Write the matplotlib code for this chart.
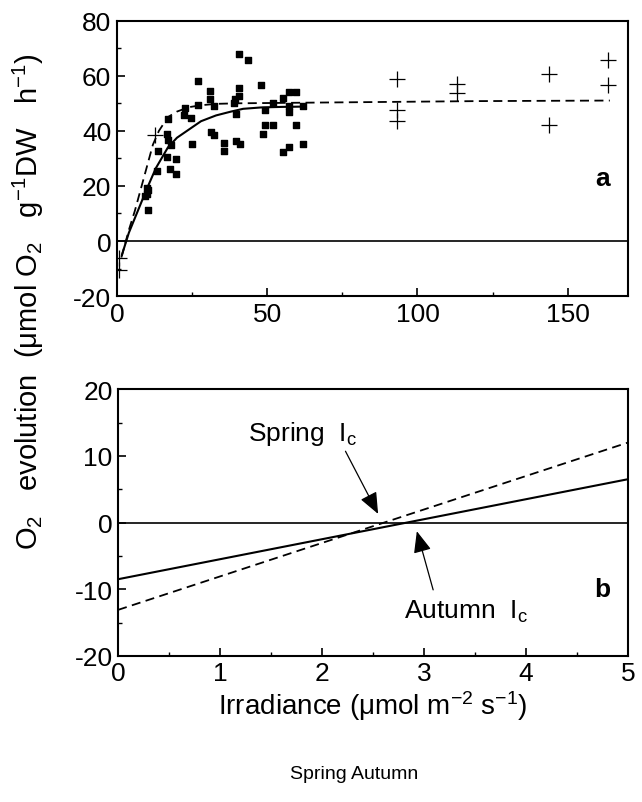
import matplotlib.pyplot as plt
from matplotlib.ticker import MultipleLocator
import numpy as np

plt.rcParams['font.family'] = ['Liberation Sans', 'DejaVu Sans']
plt.rcParams['mathtext.fontset'] = 'custom'
plt.rcParams['mathtext.rm'] = 'Liberation Sans'
plt.rcParams['mathtext.it'] = 'Liberation Sans'
plt.rcParams['axes.unicode_minus'] = False

# panel a: autumn (squares) and spring (crosses) P-I data
autumn_x = [10, 10, 10.5, 9.5, 10.5, 13.6, 13.3, 16.9, 16.7, 16.9, 16.7, 18.1, 17.8, 19.7, 19.8,
            22.6, 22.2, 24.8, 25, 26.9, 26.9, 31.1, 31.1, 32.2, 31.3, 32.4, 35.6, 35.6, 40.8, 43.7,
            40.8, 40.6, 39.4, 39.1, 39.8, 39.7, 40.9, 48.1, 48.6, 49.4, 51.9, 49.4, 51.9, 55.3,
            57.4, 59.7, 57.4, 57.4, 55.3, 57.4, 59.7, 62, 62]
autumn_y = [19.4, 17, 18.5, 16.5, 11.4, 32.8, 25.6, 44.4, 39, 36.6, 30.4, 34.9, 26.2, 24.5, 29.8,
            48.3, 45.8, 44.8, 35.2, 58.2, 49.4, 54.3, 51.5, 49.1, 39.6, 38.4, 35.7, 32.8, 68, 65.8,
            55.7, 52.7, 51.5, 50.1, 46.2, 36.3, 35.2, 56.5, 39, 42, 42, 47.4, 50.1, 51.8,
            54.1, 54.1, 49.1, 47, 32.5, 34.3, 42, 35.2, 49.1]
spring_x = [0.8, 0.8, 12.6, 93.3, 93.3, 93.3, 113.3, 113.3, 143.6, 143.6, 163.3, 163.3]
spring_y = [-6.2, -10.4, 38.4, 59, 47.4, 43.4, 56.9, 53.9, 60.5, 42.3, 65.8, 56.6]

# fitted curves
autumn_fit_x = [1.7, 4, 7, 10, 13, 17, 20, 24, 28, 33, 38, 42, 48, 55, 62]
autumn_fit_y = [-5, 3, 11, 19, 26.5, 34, 37.5, 40.5, 43.5, 45.6, 47, 48, 48.5, 48.7, 48.8]
spring_fit_x = [1.5, 4, 6, 8, 10, 12, 14, 17, 20, 24, 28, 33, 40, 60, 90, 120, 164]
spring_fit_y = [-6, 4, 11, 19, 27, 35, 40, 45, 47, 48.6, 49.3, 49.8, 50, 50.2, 50.5, 50.8, 51]

# panel b: low-light linear fits
low_x = [0, 5]
autumn_low = [-8.5, 6.5]
spring_low = [-13.1, 12.0]

fig = plt.figure(figsize=(6.42, 8.03), dpi=100)
ax1 = fig.add_axes([0.182, 0.630, 0.796, 0.343])
ax2 = fig.add_axes([0.184, 0.182, 0.794, 0.332])

dash = (0, (5, 3))
ax1.axhline(0, color='k', lw=1.2)
ax1.plot(autumn_fit_x, autumn_fit_y, color='k', lw=1.5)
ax1.plot(spring_fit_x, spring_fit_y, color='k', lw=1.3, linestyle=dash)
ax1.scatter(autumn_x, autumn_y, marker='s', s=14, color='k')
ax1.scatter(spring_x, spring_y, marker='+', s=120, color='k', linewidths=0.9)
ax1.set_xlim(0, 170)
ax1.set_ylim(-20, 80)
ax1.xaxis.set_major_locator(MultipleLocator(50))
ax1.xaxis.set_minor_locator(MultipleLocator(25))
ax1.yaxis.set_major_locator(MultipleLocator(20))
ax1.yaxis.set_minor_locator(MultipleLocator(10))
ax1.text(0.965, 0.43, 'a', transform=ax1.transAxes, fontsize=19, fontweight='bold',
         ha='right', va='center')

ax2.axhline(0, color='k', lw=1.2)
ax2.plot(low_x, autumn_low, color='k', lw=1.5)
ax2.plot(low_x, spring_low, color='k', lw=1.3, linestyle=dash)
ax2.set_xlim(0, 5)
ax2.set_ylim(-20, 20)
ax2.xaxis.set_major_locator(MultipleLocator(1))
ax2.xaxis.set_minor_locator(MultipleLocator(0.5))
ax2.yaxis.set_major_locator(MultipleLocator(10))
ax2.yaxis.set_minor_locator(MultipleLocator(5))

arrow = dict(arrowstyle='-|>,head_length=0.6,head_width=0.25', color='k', lw=0.9,
             shrinkA=0, shrinkB=0, mutation_scale=22)
ax2.text(1.27, 13.5, 'Spring  I$_\\mathrm{c}$', fontsize=19, va='center')
ax2.annotate('', xy=(2.55, 1.3), xytext=(2.23, 10.7), arrowprops=arrow)
ax2.text(2.80, -13.2, 'Autumn  I$_\\mathrm{c}$', fontsize=19, va='center')
ax2.annotate('', xy=(2.93, -1.3), xytext=(3.09, -10.1), arrowprops=arrow)
ax2.text(0.965, 0.25, 'b', transform=ax2.transAxes, fontsize=19, fontweight='bold',
         ha='right', va='center')
ax2.set_xlabel('Irradiance (μmol m$^{-2}$ s$^{-1}$)', fontsize=20, labelpad=2)

for ax in (ax1, ax2):
    ax.tick_params(which='both', direction='in', labelsize=19, top=False, right=False)
    ax.tick_params(which='major', length=6, width=1.2, pad=4)
    ax.tick_params(which='minor', length=3, width=1)
    for s in ax.spines.values():
        s.set_linewidth(1.5)

fig.text(0.045, 0.625, 'O$_2$   evolution  (μmol O$_2$   g$^{-1}$DW   h$^{-1}$)', rotation=90,
         fontsize=21, ha='center', va='center')
fig.text(0.552, 0.035, 'Spring Autumn', fontsize=14, ha='center', va='center')

fig.savefig('out.png', dpi=100)
